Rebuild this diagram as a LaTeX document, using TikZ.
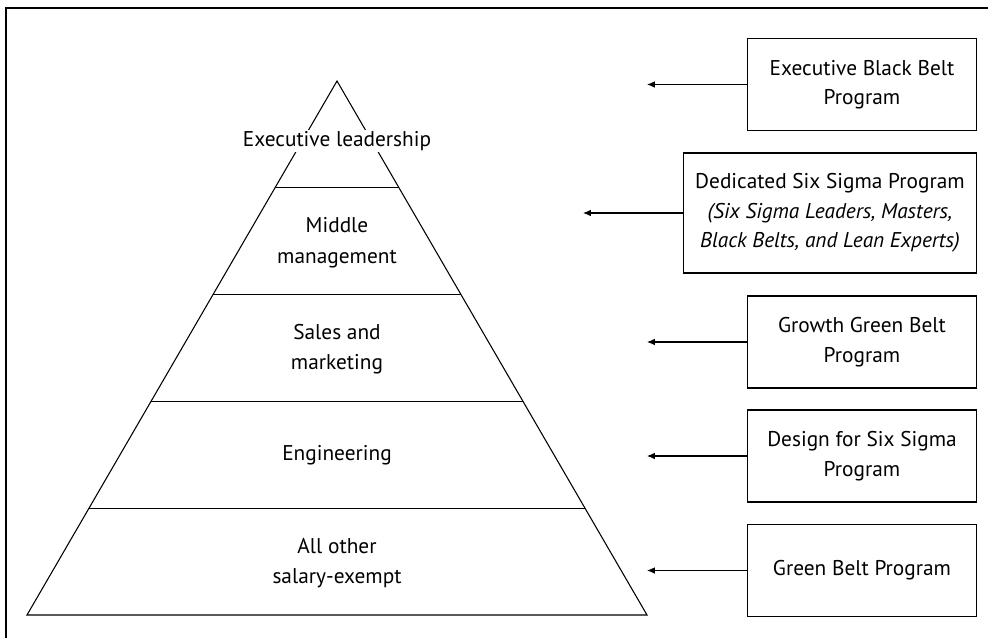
\documentclass[tikz,border=0pt]{standalone}
\usepackage{fontspec}
\setmainfont{PT Sans}
\usetikzlibrary{arrows.meta,calc,positioning}

\begin{document}
\begin{tikzpicture}[
  x=0.75pt,y=-0.75pt,
  >={Latex[length=6pt,width=5pt]},
  line width=0.8pt,
  tier/.style={align=center,font=\fontsize{16}{23}\selectfont,inner sep=1pt},
  program/.style={draw,align=center,font=\fontsize{16}{22}\selectfont,
    minimum width=171.75pt,minimum height=69pt,anchor=east,inner sep=0pt},
  feed/.style={->}
]
  \useasboundingbox (0,0) rectangle (988,638);
  \draw (6,638) -- (6,8) -- (988,8);

  \coordinate (apex) at (337,81);
  \coordinate (baseL) at (27,615);
  \coordinate (baseR) at (647,615);
  \draw (apex) -- (baseL) -- (baseR) -- cycle;
  \foreach \t in {0.2,0.4,0.6,0.8}
    \draw ($(apex)!\t!(baseL)$) -- ($(apex)!\t!(baseR)$);

  \node[tier,fill=white] (exec) at (337,141) {Executive leadership};
  \node[tier] (middle) at (337,243) {Middle\\management};
  \node[tier] (sales) at (337,349) {Sales and\\marketing};
  \node[tier] (eng) at (337,455) {Engineering};
  \node[tier] (other) at (337,563) {All other\\salary-exempt};

  \node[program] (ebb) at (977,84.5) {Executive Black Belt\\Program};
  \node[program,minimum width=219.75pt,minimum height=90pt] (dedicated) at (977,213)
    {Dedicated Six Sigma Program\\
    \textit{(Six Sigma Leaders, Masters,}\\
    \textit{Black Belts, and Lean Experts)}};
  \node[program] (ggb) at (977,342) {Growth Green Belt\\Program};
  \node[program] (dfss) at (977,456) {Design for Six Sigma\\Program};
  \node[program] (gb) at (977,570.5) {Green Belt Program};

  \coordinate[left=75pt of ebb.west] (ebbtip);
  \coordinate[left=75pt of dedicated.west] (dedicatedtip);
  \coordinate[left=75pt of ggb.west] (ggbtip);
  \coordinate[left=75pt of dfss.west] (dfsstip);
  \coordinate[left=75pt of gb.west] (gbtip);
  \draw[feed] (ebb.west) -- (ebbtip);
  \draw[feed] (dedicated.west) -- (dedicatedtip);
  \draw[feed] (ggb.west) -- (ggbtip);
  \draw[feed] (dfss.west) -- (dfsstip);
  \draw[feed] (gb.west) -- (gbtip);
\end{tikzpicture}
\end{document}
